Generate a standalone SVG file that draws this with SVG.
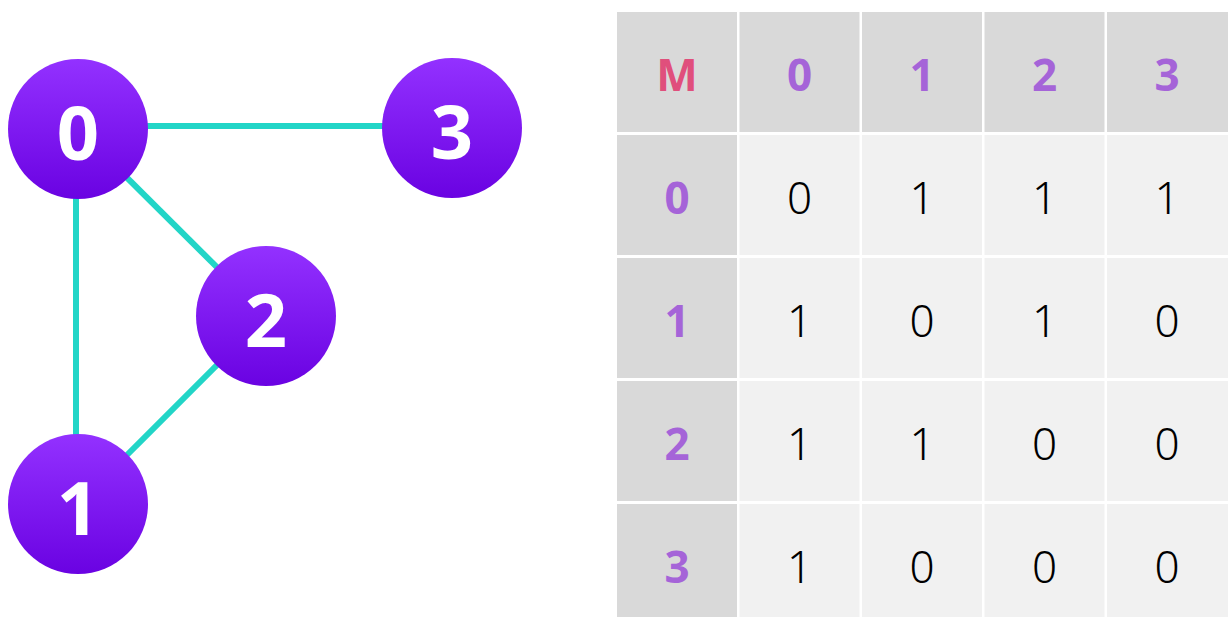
<svg xmlns="http://www.w3.org/2000/svg" width="1228" height="617" viewBox="0 0 1228 617">
<defs>
<linearGradient id="ng" x1="0" y1="0" x2="0" y2="1">
<stop offset="0" stop-color="#9331ff"/>
<stop offset="1" stop-color="#6a02e2"/>
</linearGradient>
<style>
.node{fill:url(#ng)}
.nl{fill:#fff;font-family:"Noto Sans","Liberation Sans",sans-serif;font-weight:700;font-size:74px;text-anchor:middle;dominant-baseline:central}
.edge{stroke:#22d5c7;stroke-width:6;fill:none}
.hd{fill:#d9d9d9}
.bd{fill:#f1f1f1}
.ht{fill:#a564d8;font-family:"Noto Sans","Liberation Sans",sans-serif;font-weight:700;font-size:44px;text-anchor:middle;dominant-baseline:central}
.mt{fill:#e04f7c;font-family:"Noto Sans","Liberation Sans",sans-serif;font-weight:700;font-size:44px;text-anchor:middle;dominant-baseline:central}
.bt{fill:#000;font-family:"Noto Sans","Liberation Sans",sans-serif;font-weight:300;font-size:44px;text-anchor:middle;dominant-baseline:central}
</style>
</defs>
<rect width="1228" height="617" fill="#fff"/>
<g id="connectors">
<line class="edge" x1="78" y1="126" x2="452" y2="126"/>
<line class="edge" x1="76" y1="129" x2="76" y2="504"/>
<line class="edge" x1="78" y1="129" x2="266" y2="316"/>
<line class="edge" x1="78" y1="504" x2="266" y2="316"/>
</g>
<g id="node0"><circle class="node" cx="78" cy="129" r="70"/><text class="nl" x="78" y="131">0</text></g>
<g id="node3"><circle class="node" cx="452" cy="128" r="70"/><text class="nl" x="452" y="130">3</text></g>
<g id="node2"><circle class="node" cx="266" cy="316" r="70"/><text class="nl" x="266" y="318">2</text></g>
<g id="node1"><circle class="node" cx="78" cy="504" r="70"/><text class="nl" x="78" y="506">1</text></g>
<g id="matrix">
<rect class="hd" x="617" y="12" width="120" height="120"/>
<rect class="hd" x="739.5" y="12" width="120" height="120"/>
<rect class="hd" x="862" y="12" width="120" height="120"/>
<rect class="hd" x="984.5" y="12" width="120" height="120"/>
<rect class="hd" x="1107" y="12" width="121" height="120"/>
<rect class="hd" x="617" y="135" width="120" height="120"/>
<rect class="hd" x="617" y="258" width="120" height="120"/>
<rect class="hd" x="617" y="381" width="120" height="120"/>
<rect class="hd" x="617" y="504" width="120" height="113"/>
<rect class="bd" x="739.5" y="135" width="120" height="120"/>
<rect class="bd" x="862" y="135" width="120" height="120"/>
<rect class="bd" x="984.5" y="135" width="120" height="120"/>
<rect class="bd" x="1107" y="135" width="121" height="120"/>
<rect class="bd" x="739.5" y="258" width="120" height="120"/>
<rect class="bd" x="862" y="258" width="120" height="120"/>
<rect class="bd" x="984.5" y="258" width="120" height="120"/>
<rect class="bd" x="1107" y="258" width="121" height="120"/>
<rect class="bd" x="739.5" y="381" width="120" height="120"/>
<rect class="bd" x="862" y="381" width="120" height="120"/>
<rect class="bd" x="984.5" y="381" width="120" height="120"/>
<rect class="bd" x="1107" y="381" width="121" height="120"/>
<rect class="bd" x="739.5" y="504" width="120" height="113"/>
<rect class="bd" x="862" y="504" width="120" height="113"/>
<rect class="bd" x="984.5" y="504" width="120" height="113"/>
<rect class="bd" x="1107" y="504" width="121" height="113"/>
<text class="mt" x="677" y="74">M</text>
<text class="ht" x="799.5" y="74">0</text>
<text class="ht" x="922" y="74">1</text>
<text class="ht" x="1044.5" y="74">2</text>
<text class="ht" x="1167" y="74">3</text>
<text class="ht" x="677" y="197">0</text>
<text class="ht" x="677" y="320">1</text>
<text class="ht" x="677" y="443">2</text>
<text class="ht" x="677" y="566">3</text>
<text class="bt" x="799.5" y="197">0</text>
<text class="bt" x="922" y="197">1</text>
<text class="bt" x="1044.5" y="197">1</text>
<text class="bt" x="1167" y="197">1</text>
<text class="bt" x="799.5" y="320">1</text>
<text class="bt" x="922" y="320">0</text>
<text class="bt" x="1044.5" y="320">1</text>
<text class="bt" x="1167" y="320">0</text>
<text class="bt" x="799.5" y="443">1</text>
<text class="bt" x="922" y="443">1</text>
<text class="bt" x="1044.5" y="443">0</text>
<text class="bt" x="1167" y="443">0</text>
<text class="bt" x="799.5" y="566">1</text>
<text class="bt" x="922" y="566">0</text>
<text class="bt" x="1044.5" y="566">0</text>
<text class="bt" x="1167" y="566">0</text>
</g>
</svg>
